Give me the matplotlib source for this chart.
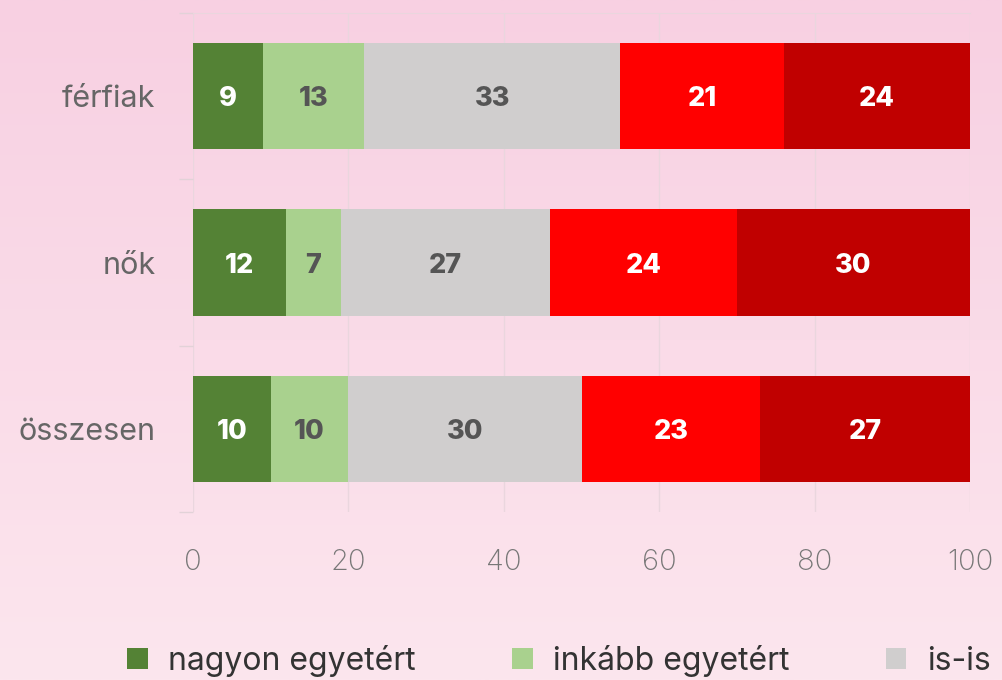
import matplotlib.pyplot as plt
import numpy as np

# data
categories = ["férfiak", "nők", "összesen"]
series = ["nagyon egyetért", "inkább egyetért", "is-is",
          "inkább nem ért egyet", "egyáltalán nem ért egyet"]
ferfiak = [9, 13, 33, 21, 24]
nok = [12, 7, 27, 24, 30]
osszesen = [10, 10, 30, 23, 27]
xticks = [0, 20, 40, 60, 80, 100]

colors = ["#548235", "#a9d18e", "#d0cece", "#ff0000", "#c00000"]
label_colors = ["white", "#555555", "#555555", "white", "white"]

plt.rcParams['font.family'] = ['Inter', 'DejaVu Sans']

fig = plt.figure(figsize=(10.02, 6.80), dpi=100)

# pink gradient background
bg = fig.add_axes([0, 0, 1, 1], zorder=-10)
grad = np.linspace(0, 1, 256).reshape(-1, 1)
top = np.array([248, 208, 226]) / 255
bot = np.array([252, 230, 238]) / 255
img = top + (bot - top) * grad[:, :, None]
bg.imshow(img, aspect='auto', extent=[0, 1, 0, 1])
bg.axis('off')

W, H = 1002, 680
ax = fig.add_axes([193 / W, 1 - 512 / H, (970 - 193) / W, (512 - 13) / H])
ax.patch.set_alpha(0)

vals = np.array([ferfiak, nok, osszesen])
ypos = np.arange(len(categories))
left = np.zeros(len(categories))
handles = []
for i, name in enumerate(series):
    b = ax.barh(ypos, vals[:, i], left=left, height=0.64,
                color=colors[i], label=name, zorder=3)
    handles.append(b)
    for y, v, l in zip(ypos, vals[:, i], left):
        ax.text(l + v / 2, y + 0.02, str(v), ha='center', va='center',
                fontsize=19.5, fontweight='heavy', color=label_colors[i], zorder=4)
    left += vals[:, i]

ax.set_xlim(0, 100)
ax.set_ylim(2.5, -0.5)
ax.set_xticks(xticks)
ax.set_xticklabels([str(t) for t in xticks], fontsize=21, color='#777777',
                   fontweight='light')
ax.tick_params(axis='x', length=0, pad=27)
ax.set_yticks(ypos)
ax.set_yticklabels(categories, fontsize=22, color='#666666')
ax.tick_params(axis='y', which='major', length=0, pad=27)
ax.set_yticks([-0.5, 0.5, 1.5, 2.5], minor=True)
ax.tick_params(axis='y', which='minor', length=10, color='#e2d2d8', width=1)

ax.grid(axis='x', color='#ead6de', linewidth=1, zorder=0)
for s in ['left', 'right', 'bottom']:
    ax.spines[s].set_visible(False)
ax.spines['top'].set_color('#ead6de')

# only the first three legend entries fit in the visible area
fig.legend(handles=handles[:3], labels=series[:3], loc='center left',
           bbox_to_anchor=(98 / W, 1 - 661 / H), ncol=3, frameon=False,
           fontsize=23, handlelength=0.65, handleheight=0.65,
           handletextpad=0.65, columnspacing=3.0, labelcolor='#333333')

fig.savefig("out.png", dpi=100)
